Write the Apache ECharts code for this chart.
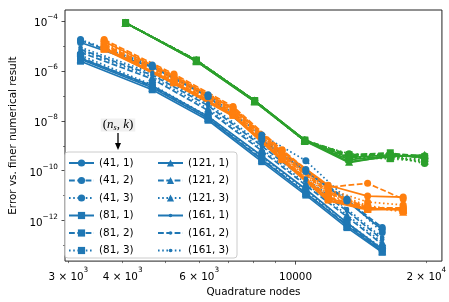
<!DOCTYPE html>
<html><head><meta charset="utf-8">
<script src="https://cdn.jsdelivr.net/npm/echarts@6/dist/echarts.min.js"></script>
<style>html,body{margin:0;padding:0;background:#fff}#c{width:449px;height:302px}</style>
</head><body><div id="c"></div>
<script>
// ---------- data ----------
const seriesNames = ['(41, 1)','(41, 2)','(41, 3)','(81, 1)','(81, 2)','(81, 3)',
                     '(121, 1)','(121, 2)','(121, 3)','(161, 1)','(161, 2)','(161, 3)'];
const blueX   = [3200, 4680, 6290, 8360, 10560, 13130, 15830];
const orangeX = [3626, 5250, 7180, 9310, 11890, 14650, 17690];
const greenX  = [4062, 5913, 8050, 10500, 13280, 16520, 19820];

const blueErr = [
  [1.36e-5, 1.41e-6, 9.23e-8, 1.70e-9, 9.33e-11, 6.14e-12, 4.42e-13],
  [1.63e-5, 1.54e-6, 1.01e-7, 2.04e-9, 1.12e-10, 6.72e-12, 5.30e-13],
  [1.78e-5, 1.69e-6, 1.11e-7, 2.68e-9, 2.53e-10, 7.36e-12, 3.37e-13],
  [2.42e-6, 1.74e-7, 1.05e-8, 2.31e-10, 1.06e-11, 5.30e-13, 5.47e-14],
  [3.48e-6, 2.29e-7, 1.26e-8, 3.04e-10, 1.27e-11, 6.95e-13, 6.56e-14],
  [4.18e-6, 2.74e-7, 1.50e-8, 3.64e-10, 1.52e-11, 8.33e-13, 7.87e-14],
  [2.90e-6, 2.09e-7, 1.26e-8, 2.77e-10, 1.27e-11, 6.35e-13, 6.00e-14],
  [5.48e-6, 4.73e-7, 2.59e-8, 6.28e-10, 2.62e-11, 1.44e-12, 1.13e-13],
  [6.57e-6, 5.68e-7, 3.11e-8, 7.53e-10, 3.14e-11, 1.72e-12, 1.36e-13],
  [3.18e-6, 2.51e-7, 1.50e-8, 3.99e-10, 1.82e-11, 8.33e-13, 7.19e-14],
  [7.19e-6, 6.80e-7, 4.08e-8, 9.89e-10, 4.13e-11, 2.48e-12, 1.78e-13],
  [8.63e-6, 8.15e-7, 4.90e-8, 1.19e-9, 4.94e-11, 2.97e-12, 2.14e-13]
];
const orangeErr = [
  [1.49e-5, 6.21e-7, 3.11e-8, 5.73e-10, 2.62e-11, 9.66e-12, 8.83e-12],
  [1.78e-5, 7.45e-7, 3.72e-8, 6.87e-10, 2.19e-11, 3.14e-11, 7.36e-12],
  [1.63e-5, 6.80e-7, 3.40e-8, 6.28e-10, 1.82e-11, 5.61e-12, 4.27e-12],
  [7.19e-6, 3.29e-7, 1.65e-8, 2.77e-10, 6.72e-12, 2.97e-12, 2.97e-12],
  [9.45e-6, 3.94e-7, 1.98e-8, 3.33e-10, 8.83e-12, 3.25e-12, 2.71e-12],
  [1.13e-5, 4.32e-7, 2.16e-8, 3.64e-10, 1.06e-11, 3.56e-12, 2.48e-12],
  [8.63e-6, 3.60e-7, 1.80e-8, 3.04e-10, 8.06e-12, 2.97e-12, 2.71e-12],
  [1.03e-5, 4.73e-7, 2.37e-8, 3.99e-10, 1.27e-11, 3.25e-12, 2.97e-12],
  [1.24e-5, 5.18e-7, 2.59e-8, 4.37e-10, 1.39e-11, 3.56e-12, 2.26e-12],
  [7.88e-6, 3.01e-7, 1.50e-8, 2.53e-10, 6.14e-12, 2.71e-12, 2.97e-12],
  [1.13e-5, 5.68e-7, 2.84e-8, 4.78e-10, 1.52e-11, 3.25e-12, 3.25e-12],
  [1.36e-5, 6.21e-7, 3.11e-8, 5.24e-10, 1.66e-11, 3.90e-12, 2.71e-12]
];
const greenErr = [
  [8.34e-5, 2.65e-6, 6.43e-8, 1.70e-9, 3.33e-10, 4.37e-10, 3.33e-10],
  [8.34e-5, 2.65e-6, 6.43e-8, 1.56e-9, 3.99e-10, 4.78e-10, 3.99e-10],
  [8.34e-5, 2.65e-6, 6.43e-8, 1.56e-9, 4.78e-10, 3.99e-10, 1.93e-10],
  [8.34e-5, 2.42e-6, 6.43e-8, 1.56e-9, 2.77e-10, 3.99e-10, 3.64e-10],
  [8.34e-5, 2.65e-6, 6.43e-8, 1.70e-9, 4.37e-10, 5.24e-10, 3.04e-10],
  [8.34e-5, 2.65e-6, 5.86e-8, 1.56e-9, 3.33e-10, 3.04e-10, 2.31e-10],
  [8.34e-5, 2.42e-6, 5.86e-8, 1.70e-9, 2.31e-10, 3.64e-10, 4.37e-10],
  [8.34e-5, 2.65e-6, 6.43e-8, 1.56e-9, 3.64e-10, 4.78e-10, 3.33e-10],
  [8.34e-5, 2.65e-6, 6.43e-8, 1.70e-9, 3.04e-10, 3.33e-10, 2.53e-10],
  [8.34e-5, 2.42e-6, 5.86e-8, 1.56e-9, 2.11e-10, 3.99e-10, 3.99e-10],
  [8.34e-5, 2.65e-6, 6.43e-8, 1.70e-9, 3.99e-10, 4.37e-10, 3.64e-10],
  [8.34e-5, 2.65e-6, 6.43e-8, 1.56e-9, 3.33e-10, 3.64e-10, 2.77e-10]
];

const xTickValues = [3000, 4000, 6000, 10000, 20000];
const xTickLabels = ['3 × 10^3', '4 × 10^3', '6 × 10^3', '10000', '2 × 10^4'];
const xMinorTicks = [3000, 4000, 5000, 6000, 7000, 8000, 9000, 20000];
const xMajorTicks = [10000];
const yTickValues = [1e-12, 1e-10, 1e-8, 1e-6, 1e-4];
const yTickLabels = ['10^−12', '10^−10', '10^−8', '10^−6', '10^−4'];
const yMinorTicks = [1e-13, 1e-11, 1e-9, 1e-7, 1e-5];

// ---------- styles ----------
const FONT = 'DejaVu Sans';
const COLORS = ['#1f77b4', '#ff7f0e', '#2ca02c'];
const DOT = 'path://M0 0M10 10M2.5 5a2.5 2.5 0 1 0 5 0a2.5 2.5 0 1 0 -5 0Z';
const SYMBOLS = [['circle', 7], ['rect', 7], ['triangle', 8], [DOT, 9]];
const DASHES = ['solid', [5.8, 2.5], [1.6, 2.6]];
const XMIN = 2947, XMAX = 21720, YMIN = 2.42e-14, YMAX = 2.713e-4;

const tickRich = {
  b: { fontFamily: FONT, fontSize: 10.4, lineHeight: 15, color: '#000', verticalAlign: 'bottom' },
  s: { fontFamily: FONT, fontSize: 7.3, lineHeight: 9, color: '#000', verticalAlign: 'top' }
};
function richLabel(lbl) {
  const m = lbl.split('^');
  return m.length > 1 ? '{b|' + m[0] + '}{s|' + m[1] + '}' : '{b|' + lbl + '}';
}
function pickLabel(values, labels, v) {
  const k = values.findIndex(t => Math.abs(t - v) / t < 1e-6);
  return k >= 0 ? richLabel(labels[k]) : '';
}

function buildSeries(xs, errs, colorIdx, prefix) {
  return errs.map((row, i) => {
    const sym = SYMBOLS[Math.floor(i / 3)];
    return {
      type: 'line',
      name: prefix + seriesNames[i],
      data: xs.map((x, j) => [x, row[j]]),
      symbol: sym[0], symbolSize: sym[1], showSymbol: true,
      lineStyle: { color: COLORS[colorIdx], width: 1.7, type: DASHES[i % 3] },
      itemStyle: { color: COLORS[colorIdx] },
      emphasis: { disabled: true },
      silent: true,
      xAxisIndex: 0, yAxisIndex: 0
    };
  });
}

const series = [].concat(
  buildSeries(blueX, blueErr, 0, ''),
  buildSeries(orangeX, orangeErr, 1, 'o '),
  buildSeries(greenX, greenErr, 2, 'g ')
);

const legendCommon = {
  orient: 'vertical', top: 158, padding: 0,
  itemWidth: 25, itemHeight: 9, itemGap: 7.5,
  textStyle: { fontFamily: FONT, fontSize: 10.4, color: '#000' },
  selectedMode: false, z: 6
};

const chart = echarts.init(document.getElementById('c'), null, { renderer: 'canvas' });
chart.setOption({
  animation: false,
  backgroundColor: '#fff',
  grid: { left: 59, right: 6.3, top: 10, bottom: 37, show: true, borderColor: '#222', borderWidth: 1, backgroundColor: 'transparent' },
  xAxis: [
    {
      type: 'log', logBase: 10, min: XMIN, max: XMAX, position: 'bottom',
      name: 'Quadrature nodes', nameLocation: 'middle', nameGap: 25,
      nameTextStyle: { fontFamily: FONT, fontSize: 10.4, color: '#000' },
      axisLine: { show: false }, splitLine: { show: false }, minorTick: { show: false },
      axisTick: { show: true, customValues: xMajorTicks, length: 3.5, lineStyle: { color: '#222', width: 0.8 } },
      axisLabel: { customValues: xTickValues, margin: 6, rich: tickRich,
        formatter: v => pickLabel(xTickValues, xTickLabels, v) }
    },
    {
      type: 'log', logBase: 10, min: XMIN, max: XMAX, position: 'bottom',
      axisLine: { show: false }, splitLine: { show: false },
      axisTick: { show: true, customValues: xMinorTicks, length: 2, lineStyle: { color: '#222', width: 0.6 } },
      axisLabel: { show: false }
    }
  ],
  yAxis: [
    {
      type: 'log', logBase: 10, min: YMIN, max: YMAX, position: 'left',
      name: 'Error vs. finer numerical result', nameLocation: 'middle', nameGap: 47, nameRotate: 90,
      nameTextStyle: { fontFamily: FONT, fontSize: 10.4, color: '#000' },
      axisLine: { show: false }, splitLine: { show: false }, minorTick: { show: false },
      axisTick: { show: true, customValues: yTickValues, length: 3.5, lineStyle: { color: '#222', width: 0.8 } },
      axisLabel: { customValues: yTickValues, margin: 7, rich: tickRich,
        formatter: v => pickLabel(yTickValues, yTickLabels, v) }
    },
    {
      type: 'log', logBase: 10, min: YMIN, max: YMAX, position: 'left',
      axisLine: { show: false }, splitLine: { show: false },
      axisTick: { show: true, customValues: yMinorTicks, length: 2, lineStyle: { color: '#222', width: 0.6 } },
      axisLabel: { show: false }
    }
  ],
  legend: [
    Object.assign({}, legendCommon, { data: seriesNames.slice(0, 6), left: 68 }),
    Object.assign({}, legendCommon, { data: seriesNames.slice(6), left: 157 })
  ],
  graphic: [
    { type: 'rect', z: 5, shape: { x: 65, y: 152, width: 172, height: 106, r: 3 },
      style: { fill: 'rgba(255,255,255,0.8)', stroke: '#cccccc', lineWidth: 1 } },
    {
      type: 'text', x: 118, y: 125, z: 100,
      style: {
        text: '{a|(}{i|n}{s|s}{a|, }{i|k}{a|)}',
        align: 'center', verticalAlign: 'middle',
        backgroundColor: '#f0f0f0', padding: [0, 2],
        rich: {
          a: { fontFamily: 'Liberation Serif', fontSize: 13, lineHeight: 13, fill: '#000', verticalAlign: 'middle' },
          i: { fontFamily: 'Liberation Serif', fontStyle: 'italic', fontSize: 13, lineHeight: 13, fill: '#000', verticalAlign: 'middle' },
          s: { fontFamily: 'Liberation Serif', fontStyle: 'italic', fontSize: 8, lineHeight: 8, fill: '#000', verticalAlign: 'bottom' }
        }
      }
    },
    { type: 'line', z: 100, shape: { x1: 118, y1: 133, x2: 118, y2: 145 }, style: { stroke: '#000', lineWidth: 1.3 } },
    { type: 'polygon', z: 100, shape: { points: [[115, 143], [121, 143], [118, 150]] }, style: { fill: '#000' } }
  ],
  series: series
});
</script>
</body></html>
